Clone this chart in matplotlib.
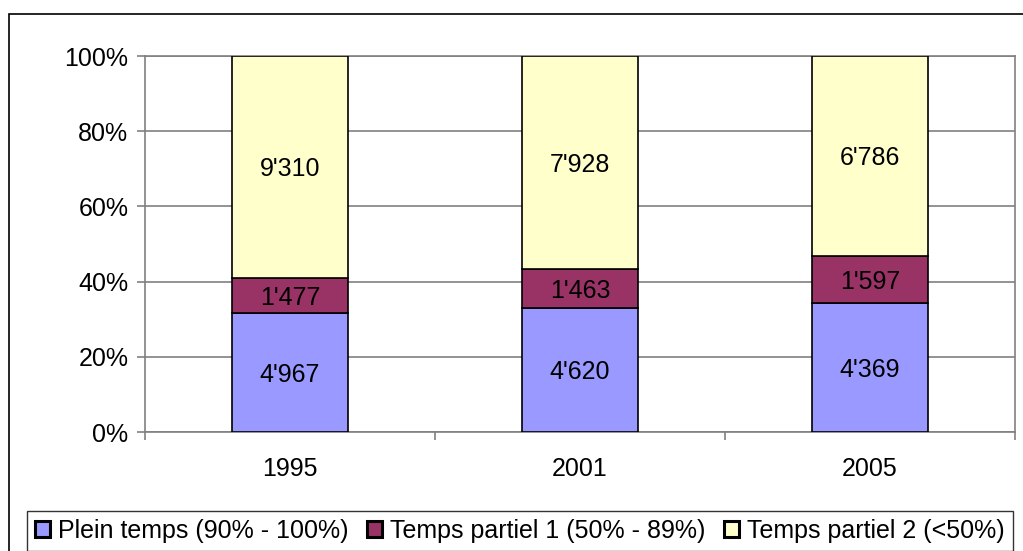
import numpy as np
import matplotlib.pyplot as plt
from matplotlib.patches import Rectangle

plt.rcParams['font.family'] = ['Liberation Sans', 'DejaVu Sans']

years = ["1995", "2001", "2005"]
plein = [4967, 4620, 4369]
partiel1 = [1477, 1463, 1597]
partiel2 = [9310, 7928, 6786]
labels = ["Plein temps (90% - 100%)", "Temps partiel 1 (50% - 89%)", "Temps partiel 2 (<50%)"]
colors = ["#9999ff", "#993366", "#ffffcc"]

series = [np.array(plein, float), np.array(partiel1, float), np.array(partiel2, float)]
total = sum(series)
fracs = [s / total * 100 for s in series]

fs = 18

fig = plt.figure(figsize=(10.23, 5.51), dpi=100)
# outer chart frame
fig.patches.append(Rectangle((9 / 1023, -0.01), 1.02, (551 - 14) / 551 + 0.01,
                             transform=fig.transFigure, fill=False,
                             edgecolor="black", linewidth=1.2))

ax = fig.add_axes([145 / 1023, 1 - 432 / 551, 870 / 1023, 376 / 551])
x = np.arange(len(years))
bottom = np.zeros(len(years))
handles = []
for vals, frac, col, lab in zip(series, fracs, colors, labels):
    b = ax.bar(x, frac, width=0.4, bottom=bottom, color=col,
               edgecolor="black", linewidth=1.2, label=lab, zorder=3)
    handles.append(b)
    for xi, f, bt, v in zip(x, frac, bottom, vals):
        txt = f"{int(v) // 1000}'{int(v) % 1000:03d}"
        ax.text(xi, bt + f / 2 - 0.6, txt, ha="center", va="center", fontsize=fs, zorder=4)
    bottom = bottom + frac

ax.set_xlim(-0.5, 2.5)
ax.set_ylim(0, 100)
ax.set_yticks(np.arange(0, 101, 20))
ax.set_yticklabels([f"{v}%" for v in range(0, 101, 20)], fontsize=fs)
ax.yaxis.grid(True, color="#808080", linewidth=1.2, zorder=0)
ax.set_xticks([-0.5, 0.5, 1.5, 2.5])
ax.set_xticklabels([])
ax.set_xticks(x, minor=True)
ax.set_xticklabels(years, minor=True, fontsize=fs)
ax.tick_params(axis="x", which="minor", length=0, pad=18)
ax.tick_params(axis="x", which="major", length=6, color="#808080", width=1.2)
ax.tick_params(axis="y", length=6, color="#808080", width=1.2, pad=6)
for side in ["left", "right", "top", "bottom"]:
    ax.spines[side].set_color("#808080")
    ax.spines[side].set_linewidth(1.2)

leg = fig.legend(handles=handles, labels=labels, loc="lower left",
                 bbox_to_anchor=(27 / 1023, 0.0), ncol=3,
                 fontsize=fs, frameon=True, fancybox=False, handlelength=0.6,
                 handleheight=0.6, handletextpad=0.32, columnspacing=0.75,
                 borderpad=0.32, borderaxespad=0)
leg.get_frame().set_edgecolor("black")
leg.get_frame().set_linewidth(1.0)
for h in leg.legend_handles:
    h.set_linewidth(2.2)

fig.savefig("out.png", dpi=100)
